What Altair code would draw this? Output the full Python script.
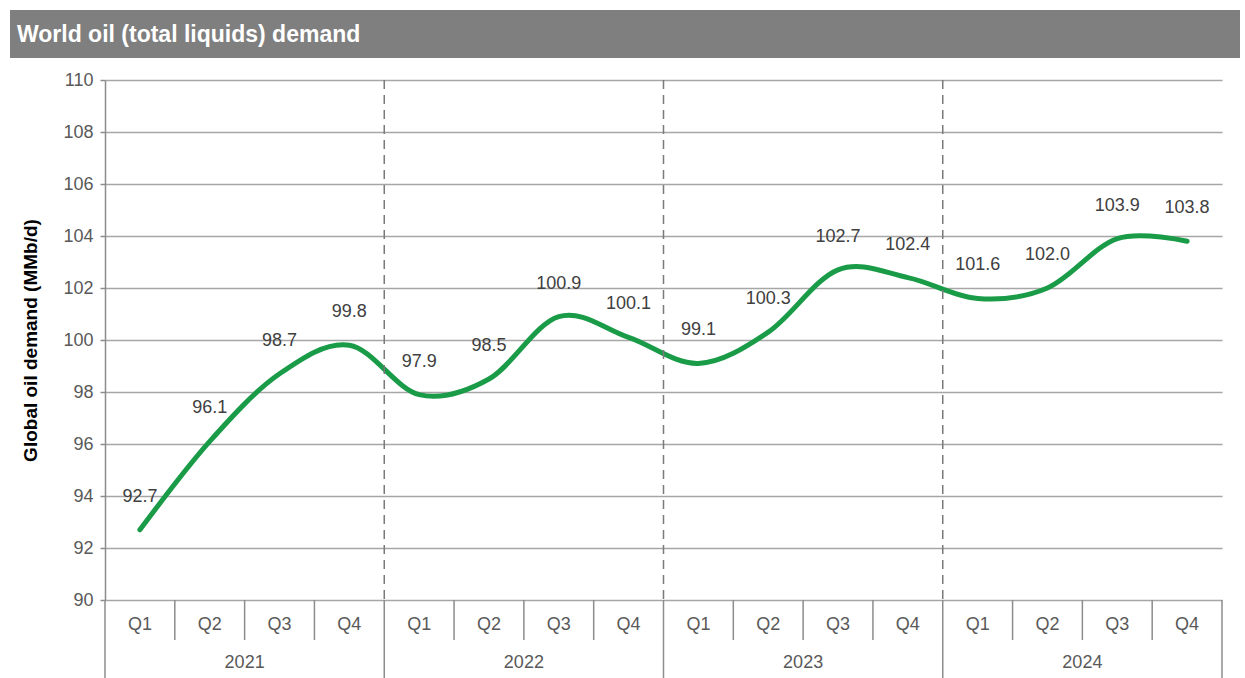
import altair as alt
import pandas as pd

title_text = "World oil (total liquids) demand"
y_title = "Global oil demand (MMb/d)"
years = ["2021", "2022", "2023", "2024"]
quarters = ["Q1", "Q2", "Q3", "Q4"]
demand = [92.7, 96.1, 98.7, 99.8,
          97.9, 98.5, 100.9, 100.1,
          99.1, 100.3, 102.7, 102.4,
          101.6, 102.0, 103.9, 103.8]
y_ticks = list(range(90, 111, 2))

W, H = 1117, 520
FONT = "Liberation Sans"

rows = []
i = 0
for y in years:
    for q in quarters:
        rows.append({"idx": i, "year": y, "quarter": q, "value": demand[i]})
        i += 1
df = pd.DataFrame(rows)

year_df = pd.DataFrame({
    "year": years,
    "center": [float(df[df.year == y].idx.mean()) for y in years],
    "start": [float(df[df.year == y].idx.min()) - 0.5 for y in years],
})
inner_bounds = pd.DataFrame({"pos": year_df["start"].iloc[1:].tolist()})
all_bounds = pd.DataFrame({"pos": year_df["start"].tolist() + [float(df.idx.max()) + 0.5]})
q_seps = pd.DataFrame({"pos": (df[df.quarter != quarters[-1]].idx + 0.5).tolist()})

xscale = alt.Scale(domain=[-0.5, len(demand) - 0.5], nice=False, zero=False)
yscale = alt.Scale(domain=[90, 110], nice=False, zero=False)
yaxis = alt.Axis(values=y_ticks, grid=True, gridColor="#a6a6a6", gridWidth=1.5,
                 domain=True, domainColor="#8c8c8c", domainWidth=1.5,
                 ticks=True, tickSize=5, tickColor="#8c8c8c", tickWidth=1.5,
                 labelFont=FONT, labelFontSize=18, labelColor="#595959", labelPadding=7,
                 title=y_title, titleFont=FONT, titleFontSize=19, titleFontWeight="bold",
                 titleColor="#000000", titlePadding=22)


def X(field):
    return alt.X(field, scale=xscale, axis=None)


def Y(field):
    return alt.Y(field, scale=yscale, axis=yaxis)


base = alt.Chart(df)
tdf = pd.DataFrame({"t": [title_text]})

title_bar = alt.Chart(tdf).mark_rule(
    color="#7f7f7f", strokeWidth=48, strokeCap="butt"
).encode(
    x=alt.value(-95), x2=alt.value(W + 18), y=alt.value(-46)
)
title_lbl = alt.Chart(tdf).mark_text(
    align="left", baseline="middle", font=FONT, fontSize=23, fontWeight="bold", color="white"
).encode(x=alt.value(-88), y=alt.value(-45), text="t:N")

line = base.mark_line(
    color="#1a9b48", strokeWidth=5, interpolate="cardinal", tension=0, strokeCap="round"
).encode(x=X("idx:Q"), y=Y("value:Q"))

labels = base.mark_text(
    font=FONT, fontSize=18, color="#404040", dy=-33, baseline="middle"
).encode(
    x=X("idx:Q"), y=Y("value:Q"),
    text=alt.Text("value:Q", format=".1f"),
)

dashed = alt.Chart(inner_bounds).mark_rule(
    color="#7a7a7a", strokeWidth=1.5, strokeDash=[9, 6]
).encode(x=X("pos:Q"), y=alt.value(0), y2=alt.value(H))

year_rules = alt.Chart(all_bounds).mark_rule(color="#8c8c8c", strokeWidth=1.5).encode(
    x=X("pos:Q"), y=alt.value(H), y2=alt.value(H + 78)
)
q_rules = alt.Chart(q_seps).mark_rule(color="#8c8c8c", strokeWidth=1.5).encode(
    x=X("pos:Q"), y=alt.value(H), y2=alt.value(H + 40)
)
q_text = base.mark_text(font=FONT, fontSize=18, color="#595959", baseline="middle").encode(
    x=X("idx:Q"), y=alt.value(H + 25), text="quarter:N"
)
y_text = alt.Chart(year_df).mark_text(font=FONT, fontSize=18, color="#595959", baseline="middle").encode(
    x=X("center:Q"), y=alt.value(H + 63), text="year:N"
)

chart = alt.layer(
    line, labels, dashed, year_rules, q_rules, q_text, y_text, title_bar, title_lbl
).properties(
    width=W, height=H,
    autosize=alt.AutoSizeParams(type="none"),
    padding={"left": 105, "top": 80, "right": 23, "bottom": 78},
    background="white",
).configure_view(stroke=None)

chart.save("out.html", embed_options={"renderer": "svg", "actions": False})
